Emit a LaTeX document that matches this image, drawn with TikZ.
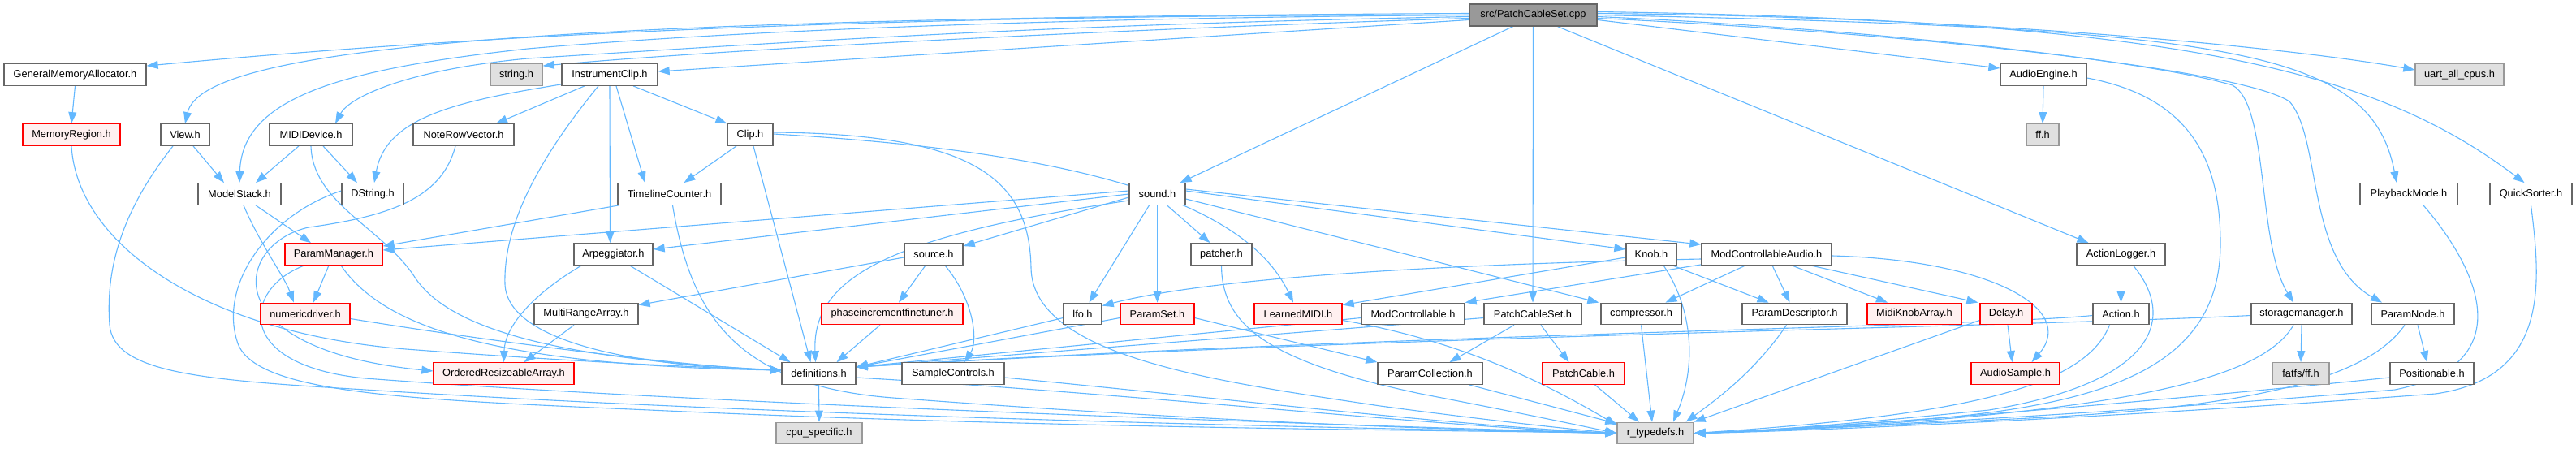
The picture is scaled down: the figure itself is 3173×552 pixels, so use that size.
\documentclass[tikz,border=0pt]{standalone}
\usepackage{fontspec}
\setmainfont{Liberation Sans}
\usetikzlibrary{arrows.meta}
\pgfdeclarelayer{bg}
\pgfsetlayers{bg,main}
\definecolor{edgec}{HTML}{63B8FF}
\definecolor{bordc}{HTML}{666666}
\definecolor{incfill}{HTML}{FFF0F0}
\definecolor{incbord}{HTML}{FF0000}
\definecolor{sysfill}{HTML}{E0E0E0}
\definecolor{sysbord}{HTML}{999999}
\definecolor{rootfill}{HTML}{999999}
\tikzset{
  pn/.style={draw=bordc, fill=white, line width=1.3pt, minimum height=26.5pt, inner sep=0pt,
     font=\fontsize{12.8pt}{14pt}\selectfont},
  incn/.style={pn, draw=incbord, fill=incfill},
  sysn/.style={pn, draw=sysbord, fill=sysfill},
  rootn/.style={pn, draw=bordc, fill=rootfill, minimum height=27pt},
  dep/.style={draw=edgec, line width=1.1pt, -{Triangle[length=14pt,width=10pt]}},
}
\begin{document}
\begin{tikzpicture}[x=1pt,y=-1pt]
\begin{pgfonlayer}{bg}
\fill[white] (0,0) rectangle (3173,552);
\end{pgfonlayer}
\useasboundingbox (0,0) rectangle (3173,552);
% rank 0
\node[rootn, minimum width=157pt] (root) at (1888.5,18.5) {src/PatchCableSet.cpp};
% rank 1
\node[pn, minimum width=175pt] (gma) at (92.5,92) {GeneralMemoryAllocator.h};
\node[sysn, minimum width=64pt] (stringh) at (636,92) {string.h};
\node[pn, minimum width=118pt] (iclip) at (751,92) {InstrumentClip.h};
\node[pn, minimum width=106pt] (audioeng) at (2517,92) {AudioEngine.h};
\node[sysn, minimum width=109pt] (uart) at (3029.5,92) {uart\_all\_cpus.h};
% rank 2
\node[incn, minimum width=120pt] (memreg) at (88,166) {MemoryRegion.h};
\node[pn, minimum width=60pt] (view) at (228,166) {View.h};
\node[pn, minimum width=102pt] (mididev) at (383,166) {MIDIDevice.h};
\node[pn, minimum width=124pt] (nrv) at (571,166) {NoteRowVector.h};
\node[pn, minimum width=56pt] (clip) at (924,166) {Clip.h};
\node[sysn, minimum width=40pt] (ffh) at (2516,166) {ff.h};
% rank 3
\node[pn, minimum width=102pt] (mstack) at (295,239) {ModelStack.h};
\node[pn, minimum width=76pt] (dstring) at (459,239) {DString.h};
\node[pn, minimum width=127pt] (tcounter) at (824.5,239) {TimelineCounter.h};
\node[pn, minimum width=69pt] (sound) at (1425.5,239) {sound.h};
\node[pn, minimum width=120pt] (pbmode) at (2967,239) {PlaybackMode.h};
\node[pn, minimum width=101pt] (qsort) at (3117.5,239) {QuickSorter.h};
% rank 4
\node[incn, minimum width=120pt] (pmgr) at (411,313) {ParamManager.h};
\node[pn, minimum width=97pt] (arp) at (755.5,313) {Arpeggiator.h};
\node[pn, minimum width=72pt] (source) at (1150,313) {source.h};
\node[pn, minimum width=75pt] (patcher) at (1504.5,313) {patcher.h};
\node[pn, minimum width=62pt] (knob) at (2034,313) {Knob.h};
\node[pn, minimum width=160pt] (mca) at (2176,313) {ModControllableAudio.h};
\node[pn, minimum width=109pt] (alog) at (2612.5,313) {ActionLogger.h};
% rank 5
\node[incn, minimum width=110pt] (ndriver) at (376,386.5) {numericdriver.h};
\node[pn, minimum width=128pt] (mra) at (722,386.5) {MultiRangeArray.h};
\node[incn, minimum width=174pt] (pift) at (1099,386.5) {phaseincrementfinetuner.h};
\node[pn, minimum width=47pt] (lfo) at (1333.5,386.5) {lfo.h};
\node[incn, minimum width=91pt] (pset) at (1425.5,386.5) {ParamSet.h};
\node[incn, minimum width=108pt] (lmidi) at (1599,386.5) {LearnedMIDI.h};
\node[pn, minimum width=127pt] (mc) at (1740.5,386.5) {ModControllable.h};
\node[pn, minimum width=120pt] (pcsh) at (1888,386.5) {PatchCableSet.h};
\node[pn, minimum width=99pt] (comp) at (2021.5,386.5) {compressor.h};
\node[pn, minimum width=129pt] (pdesc) at (2210.5,386.5) {ParamDescriptor.h};
\node[incn, minimum width=116pt] (mka) at (2358,386.5) {MidiKnobArray.h};
\node[incn, minimum width=64pt] (delay) at (2471,386.5) {Delay.h};
\node[pn, minimum width=69pt] (action) at (2612.5,386.5) {Action.h};
\node[pn, minimum width=124pt] (stor) at (2835,386.5) {storagemanager.h};
\node[pn, minimum width=102pt] (pnode) at (2972,386.5) {ParamNode.h};
% rank 6
\node[incn, minimum width=173pt] (ora) at (620.5,460) {OrderedResizeableArray.h};
\node[pn, minimum width=91pt] (defs) at (1008.5,460) {definitions.h};
\node[pn, minimum width=126pt] (sctrl) at (1174,460) {SampleControls.h};
\node[pn, minimum width=129pt] (pcoll) at (1761.5,460) {ParamCollection.h};
\node[incn, minimum width=101pt] (pcable) at (1950.5,460) {PatchCable.h};
\node[incn, minimum width=109pt] (asample) at (2482.5,460) {AudioSample.h};
\node[sysn, minimum width=70pt] (fatff) at (2834,460) {fatfs/ff.h};
\node[pn, minimum width=103pt] (posn) at (2995.5,460) {Positionable.h};
% rank 7
\node[sysn, minimum width=106pt] (cpus) at (1009,533.5) {cpu\_specific.h};
\node[sysn, minimum width=94pt] (rtd) at (2039,533.5) {r\_typedefs.h};
% convergence points
\coordinate (defsR) at ([yshift=-6pt]defs.north east);
\coordinate (defsL) at ([yshift=4pt]defs.west);
\coordinate (rtdL) at (rtd.west);
\coordinate (rtdR) at (rtd.east);
\begin{pgfonlayer}{bg}
% root edges
\draw[dep] (root.west) .. controls (1100,18) and (600,42) .. ([yshift=-3pt]gma.north east);
\draw[dep] ([yshift=-4pt]root.west) .. controls (1400,35) and (900,60) .. ([yshift=-3pt]stringh.north east);
\draw[dep] ([yshift=-6pt]root.west) -- ([yshift=4pt]iclip.east);
\draw[dep] ([yshift=2pt]root.west) .. controls (700,22) and (250,55) .. (view.north);
\draw[dep] ([yshift=-2pt]root.west) .. controls (1300,30) and (1000,50) .. (650,72) .. controls (500,86) and (430,120) .. ([xshift=30pt]mididev.north);
\draw[dep] (root.west) .. controls (1300,22) and (900,38) .. (650,60) .. controls (420,85) and (298,120) .. (mstack.north);
\draw[dep] ([xshift=-25pt]root.south) -- ([xshift=28pt]sound.north);
\draw[dep] (root.south) -- (pcsh.north);
\draw[dep] ([xshift=30pt]root.south) -- ([xshift=-40pt]alog.north);
\draw[dep] ([yshift=-6pt]root.east) -- ([yshift=8pt]audioeng.west);
\draw[dep] ([yshift=2pt]root.east) .. controls (2400,20) and (2800,55) .. ([yshift=6pt]uart.west);
\draw[dep] (root.east) .. controls (2750,35) and (2920,60) .. ([xshift=-15pt]pbmode.north);
\draw[dep] ([yshift=4pt]root.east) .. controls (2700,25) and (2930,90) .. ([xshift=-8pt]qsort.north);
\draw[dep] ([yshift=-2pt]root.east) .. controls (2300,35) and (2650,75) .. (2750,105) .. controls (2795,130) and (2780,300) .. ([xshift=-10pt]stor.north);
\draw[dep] ([yshift=-4pt]root.east) .. controls (2350,40) and (2760,85) .. (2820,125) .. controls (2860,170) and (2840,320) .. ([xshift=-38pt]pnode.north);
% left part
\draw[dep] (gma.south) -- (memreg.north);
\draw[dep] (memreg.south) .. controls (95,300) and (250,410) .. (500,430) .. controls (700,445) and (850,452) .. (defsL);
\draw[dep] ([xshift=10pt]view.south) -- ([xshift=-19pt]mstack.north);
\draw[dep] ([xshift=-15pt]view.south) .. controls (150,260) and (130,330) .. (135,400) .. controls (140,460) and (250,468) .. (450,480) .. controls (1000,515) and (1700,528) .. (rtdL);
\draw[dep] ([xshift=-15pt]mididev.south) -- ([xshift=20pt]mstack.north);
\draw[dep] ([xshift=15pt]mididev.south) -- ([xshift=-19pt]dstring.north);
\draw[dep] (mididev.south) .. controls (385,250) and (470,280) .. (510,340) .. controls (560,420) and (750,445) .. (defsL);
\draw[dep] ([xshift=-10pt]nrv.south) .. controls (545,240) and (490,265) .. (380,280) .. controls (290,300) and (260,430) .. ([yshift=3pt]ora.west);
\draw[dep] ([yshift=4pt]dstring.west) .. controls (330,265) and (270,350) .. (292,420) .. controls (310,485) and (500,492) .. (800,505) .. controls (1300,528) and (1800,530) .. (rtdL);
\draw[dep] ([xshift=20pt]mstack.south) -- ([xshift=-28pt]pmgr.north);
\draw[dep] ([xshift=5pt]mstack.south) .. controls (320,300) and (350,340) .. ([xshift=-14pt]ndriver.north);
\draw[dep] ([xshift=-6pt]pmgr.south) -- ([xshift=10pt]ndriver.north);
\draw[dep] ([xshift=9pt]pmgr.south) .. controls (470,400) and (600,450) .. (defsL);
\draw[dep] ([xshift=-36pt]pmgr.south) .. controls (300,355) and (285,450) .. (450,466) .. controls (900,500) and (1700,525) .. (rtdL);
\draw[dep] ([yshift=-6pt]ndriver.east) .. controls (600,420) and (850,452) .. (defsL);
\draw[dep] ([xshift=29pt]iclip.south) -- (clip.north west);
\draw[dep] ([xshift=8pt]iclip.south) -- ([xshift=-30pt]tcounter.north);
\draw[dep] ([xshift=-31pt]iclip.south) -- ([xshift=40pt]nrv.north);
\draw[dep] ([yshift=2pt]iclip.south west) .. controls (560,125) and (475,145) .. ([xshift=2pt]dstring.north);
\draw[dep] (iclip.south) -- ([xshift=-4pt]arp.north);
\draw[dep] ([xshift=-14pt]iclip.south) .. controls (660,200) and (620,280) .. (622,350) .. controls (625,425) and (800,452) .. (defsL);
\draw[dep] ([xshift=-17pt]clip.south) -- ([xshift=18pt]tcounter.north);
\draw[dep] ([xshift=4pt]clip.south) -- ([xshift=-10pt]defs.north);
\draw[dep] ([yshift=3pt]clip.east) .. controls (1200,165) and (1268,220) .. (1270,330) .. controls (1272,440) and (1500,470) .. (1700,500) .. controls (1850,520) and (1950,530) .. (rtdL);
\draw[dep] ([yshift=1pt]clip.east) .. controls (1300,185) and (1530,240) .. ([xshift=-6pt]lmidi.north);
\draw[dep] ([xshift=2pt]tcounter.south west) -- ([yshift=-4pt]pmgr.north east);
\draw[dep] ([xshift=4pt]tcounter.south) .. controls (850,380) and (900,475) .. (1100,490) .. controls (1500,520) and (1800,530) .. (rtdL);
% sound
\draw[dep] ([yshift=4pt]sound.west) -- ([yshift=5pt]pmgr.east);
\draw[dep] (sound.west) -- ([yshift=6pt]arp.east);
\draw[dep] ([yshift=-4pt]sound.west) -- ([yshift=-4pt]source.north east);
\draw[dep] ([yshift=-8pt]sound.west) .. controls (1100,290) and (1000,340) .. ([xshift=-4pt]defs.north);
\draw[dep] ([xshift=-10pt]sound.south) -- ([xshift=8pt]lfo.north);
\draw[dep] (sound.south) -- (pset.north);
\draw[dep] ([xshift=12pt]sound.south) -- ([xshift=-14pt]patcher.north);
\draw[dep] ([yshift=4pt]sound.east) -- ([yshift=6pt]knob.west);
\draw[dep] ([yshift=6pt]sound.east) -- ([yshift=-2pt]mca.north west);
\draw[dep] ([yshift=-6pt]sound.east) -- ([xshift=-2pt]comp.north west);
% middle
\draw[dep] ([xshift=-39pt]arp.south) .. controls (660,360) and (622,400) .. (ora.north);
\draw[dep] ([xshift=20pt]arp.south) -- ([xshift=-35pt]defs.north);
\draw[dep] ([yshift=-4pt]source.west) -- ([yshift=-3pt]mra.north east);
\draw[dep] ([xshift=-10pt]source.south) -- ([xshift=8pt]pift.north);
\draw[dep] ([xshift=14pt]source.south) .. controls (1200,370) and (1205,420) .. ([xshift=14pt]sctrl.north);
\draw[dep] ([xshift=-15pt]mra.south) -- ([xshift=25pt]ora.north);
\draw[dep] ([xshift=-15pt]pift.south) -- ([xshift=22pt]defs.north);
\draw[dep] ([yshift=-5pt]lfo.west) -- (defsR);
\draw[dep] ([yshift=-5pt]pset.west) -- (defsR);
\draw[dep] ([yshift=-5pt]pset.east) -- (pcoll.north west);
\draw[dep] (patcher.south) .. controls (1505,400) and (1560,445) .. (1750,485) .. controls (1880,510) and (1950,525) .. (rtdL);
\draw[dep] ([yshift=-8pt]lmidi.east) .. controls (1800,420) and (1900,470) .. ([yshift=-4pt]rtd.north west);
\draw[dep] ([yshift=-4pt]knob.west) -- ([yshift=-3pt]lmidi.north east);
\draw[dep] ([xshift=26pt]knob.south) -- ([xshift=-32pt]pdesc.north);
\draw[dep] ([xshift=15pt]knob.south) .. controls (2085,380) and (2090,450) .. ([xshift=22pt]rtd.north);
\draw[dep] ([yshift=-6pt]mca.west) .. controls (1800,325) and (1500,340) .. ([yshift=-4pt]lfo.north east);
\draw[dep] ([yshift=1pt]mca.south west) -- (mc.north east);
\draw[dep] ([xshift=-26pt]mca.south) -- ([xshift=30pt]comp.north);
\draw[dep] ([xshift=7pt]mca.south) -- ([xshift=-6pt]pdesc.north);
\draw[dep] ([xshift=31pt]mca.south) -- ([xshift=-33pt]mka.north);
\draw[dep] ([xshift=54pt]mca.south) -- ([xshift=-2pt]delay.north west);
\draw[dep] ([yshift=-2pt]mca.east) .. controls (2450,320) and (2560,380) .. ([xshift=20pt]asample.north);
\draw[dep] ([yshift=-5pt]mc.west) -- (defsR);
\draw[dep] ([xshift=-23pt]pcsh.south) -- ([xshift=24pt]pcoll.north);
\draw[dep] ([xshift=10pt]pcsh.south) -- ([xshift=-18pt]pcable.north);
\draw[dep] ([yshift=-5pt]pcsh.west) -- (defsR);
\draw[dep] (comp.south) -- ([xshift=-4pt]rtd.north);
\draw[dep] ([xshift=-10pt]pdesc.south) .. controls (2160,460) and (2110,495) .. ([xshift=-10pt]rtd.north east);
\draw[dep] ([yshift=-8pt]delay.west) -- (rtd.north east);
\draw[dep] ([xshift=2pt]delay.south) -- ([xshift=-4pt]asample.north);
% right part
\draw[dep] (alog.south) -- (action.north);
\draw[dep] ([xshift=15pt]alog.south) .. controls (2680,390) and (2660,470) .. (2450,505) .. controls (2250,525) and (2150,532) .. (rtdR);
\draw[dep] ([yshift=-2pt]action.west) .. controls (2450,402) and (1700,412) .. (defsR);
\draw[dep] ([xshift=-14pt]action.south) .. controls (2570,470) and (2450,510) .. (rtdR);
\draw[dep] ([yshift=-2pt]stor.west) .. controls (2500,402) and (1700,414) .. (defsR);
\draw[dep] (stor.south) -- (fatff.north);
\draw[dep] ([xshift=-10pt]stor.south) .. controls (2790,460) and (2650,512) .. (rtdR);
\draw[dep] ([xshift=6pt]pnode.south) -- ([xshift=-6pt]posn.north);
\draw[dep] ([xshift=-10pt]pnode.south) .. controls (2920,460) and (2800,500) .. (2500,515) .. controls (2300,525) and (2150,532) .. (rtdR);
\draw[dep] ([yshift=-5pt]posn.west) .. controls (2700,490) and (2300,525) .. (rtdR);
\draw[dep] (audioeng.south) -- (ffh.north);
\draw[dep] ([yshift=-4pt]audioeng.east) .. controls (2700,120) and (2735,200) .. (2735,300) .. controls (2735,450) and (2600,500) .. (2350,518) .. controls (2200,528) and (2150,532) .. (rtdR);
\draw[dep] ([xshift=18pt]pbmode.south) .. controls (3060,340) and (3100,450) .. (2950,480) .. controls (2600,510) and (2200,530) .. (rtdR);
\draw[dep] (qsort.south) .. controls (3130,350) and (3140,465) .. (3000,485) .. controls (2600,515) and (2200,532) .. (rtdR);
% bottom
\draw[dep] (defs.south) -- (cpus.north);
\draw[dep] ([yshift=-5pt]defs.east) .. controls (1400,485) and (1800,528) .. (rtdL);
\draw[dep] ([yshift=-5pt]sctrl.east) .. controls (1500,490) and (1800,525) .. (rtdL);
\draw[dep] ([xshift=48pt]pcoll.south) -- ([yshift=-2pt]rtd.north west);
\draw[dep] ([xshift=14pt]pcable.south) -- ([xshift=-20pt]rtd.north);
\end{pgfonlayer}
\end{tikzpicture}
\end{document}
